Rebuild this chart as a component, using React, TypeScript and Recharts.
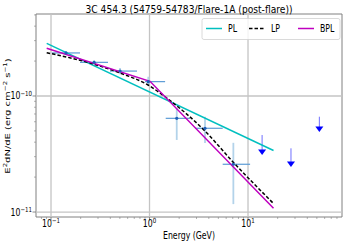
import React from 'react';
import {
  ComposedChart,
  Line,
  Scatter,
  XAxis,
  YAxis,
  ErrorBar,
  ReferenceLine,
  ReferenceArea,
} from 'recharts';

const TITLE = '3C 454.3 (54759-54783/Flare-1A (post-flare))';

// SED flux points (GeV, erg cm^-2 s^-1)
const binE = [0.142, 0.274, 0.502, 0.972, 1.89, 3.66, 7.1];
const binEmin = [0.102, 0.197, 0.397, 0.9, 1.46, 2.9, 5.53];
const binEmax = [0.197, 0.379, 0.746, 1.44, 2.58, 5.53, 10.5];
const binF = [2.35e-10, 1.95e-10, 1.64e-10, 1.33e-10, 6.42e-11, 5.27e-11, 2.58e-11];
const binFmin = [2.26e-10, 1.87e-10, 1.54e-10, 1.245e-10, 4.18e-11, 3.94e-11, 1.17e-11];
const binFmax = [2.44e-10, 2.03e-10, 1.74e-10, 1.466e-10, 7.88e-11, 6.63e-11, 3.95e-11];

// upper limits
const ulE = [13.9, 27.3, 53.0];
const ulTop = [4.61e-11, 3.54e-11, 6.63e-11];
const ulHead = [3.29e-11, 2.59e-11, 5.19e-11];

// model curves
const plE = [0.0904, 18.15];
const plF = [2.845e-10, 3.39e-11];
const lpE = [0.0904, 0.2797, 0.5018, 0.9656, 1.541, 3.66, 7.043, 18.15];
const lpF = [2.362e-10, 1.869e-10, 1.579e-10, 1.244e-10, 9.42e-11, 4.99e-11, 2.7e-11, 1.184e-11];
const bplE = [0.0904, 1.012, 18.15];
const bplF = [2.577e-10, 1.338e-10, 1.076e-11];

// axes
const xDomain = [0.0704, 90];
const yDomain = [9.06e-12, 5.09e-10];
const xMajor = [0.1, 1, 10];
const yMajor = [1e-11, 1e-10];
const xTicks = [0.08, 0.09, 0.1, 0.2, 0.3, 0.4, 0.5, 0.6, 0.7, 0.8, 0.9, 1, 2, 3, 4, 5, 6, 7, 8, 9, 10, 20, 30, 40, 50, 60, 70, 80];
const yTicks = [1e-11, 2e-11, 3e-11, 4e-11, 5e-11, 6e-11, 7e-11, 8e-11, 9e-11, 1e-10, 2e-10, 3e-10, 4e-10, 5e-10];

const FONT = 'DejaVu Sans';
const AXIS = '#808080';
const GRID = '#c4c4c4';

const series = [
  { name: 'PL', color: '#00bfbf', dash: undefined as string | undefined, e: plE, f: plF },
  { name: 'LP', color: '#000000', dash: '3.5 2', e: lpE, f: lpF },
  { name: 'BPL', color: '#bf00bf', dash: undefined as string | undefined, e: bplE, f: bplF },
];

const points = binE.map((e, i) => ({
  e,
  f: binF[i],
  xErr: [e - binEmin[i], binEmax[i] - e],
  yErr: [binF[i] - binFmin[i], binFmax[i] - binF[i]],
}));

const limits = ulE.map((e, i) => ({
  e,
  f: ulHead[i],
  yErr: [0, ulTop[i] - ulHead[i]],
}));

const isMajor = (v: number) => {
  const l = Math.log10(v);
  return Math.abs(l - Math.round(l)) < 1e-6;
};

const Pow10 = ({ x, y, exp, anchor }: any) => (
  <text
    transform={`translate(${x},${y}) scale(0.78,1)`}
    textAnchor={anchor}
    fontFamily={FONT}
    fontSize={10}
    fill="#000"
  >
    10
    <tspan dy={-4} fontSize={7}>
      {exp < 0 ? '\u2212' + -exp : String(exp)}
    </tspan>
  </text>
);

const XTick = ({ x, y, payload }: any) => {
  const v = payload.value;
  const major = isMajor(v);
  return (
    <g>
      <line x1={x} x2={x} y1={y} y2={y + (major ? 3.5 : 2)} stroke={AXIS} strokeWidth={major ? 0.9 : 0.6} />
      {major && <Pow10 x={x} y={y + 10} exp={Math.round(Math.log10(v))} anchor="middle" />}
    </g>
  );
};

const YTick = ({ x, y, payload }: any) => {
  const v = payload.value;
  const major = isMajor(v);
  return (
    <g>
      <line x1={x - (major ? 3.5 : 2)} x2={x} y1={y} y2={y} stroke={AXIS} strokeWidth={major ? 0.9 : 0.6} />
      {major && <Pow10 x={x - 4} y={y + 3.5} exp={Math.round(Math.log10(v))} anchor="end" />}
    </g>
  );
};

const Caret = ({ cx, cy }: any) => (
  <polygon points={`${cx - 4},${cy - 2.5} ${cx + 4},${cy - 2.5} ${cx},${cy + 3}`} fill="#0000ff" />
);

const Dot = ({ cx, cy }: any) => <circle cx={cx} cy={cy} r={1.6} fill="#1f5fb8" />;

const legendX = [206, 249, 298];

export default function App() {
  return (
    <div style={{ position: 'absolute', left: 0, top: 0, width: 346, height: 245, background: '#fff' }}>
      <ComposedChart width={346} height={245} margin={{ top: 14, right: 4, bottom: 0, left: 0 }}>
        <XAxis
          dataKey="e"
          type="number"
          scale="log"
          domain={xDomain}
          allowDataOverflow
          ticks={xTicks}
          interval={0}
          tick={<XTick />}
          tickLine={false}
          tickSize={0}
          tickMargin={0}
          axisLine={false}
          height={28}
        />
        <YAxis
          dataKey="f"
          type="number"
          scale="log"
          domain={yDomain}
          allowDataOverflow
          ticks={yTicks}
          interval={0}
          tick={<YTick />}
          tickLine={false}
          tickSize={0}
          tickMargin={0}
          axisLine={false}
          width={36}
        />
        {xMajor.map((v) => (
          <ReferenceLine key={'gx' + v} x={v} stroke={GRID} strokeWidth={1.3} />
        ))}
        {yMajor.map((v) => (
          <ReferenceLine key={'gy' + v} y={v} stroke={GRID} strokeWidth={1.3} />
        ))}
        <ReferenceArea
          x1={xDomain[0]}
          x2={xDomain[1]}
          y1={yDomain[0]}
          y2={yDomain[1]}
          fill="none"
          fillOpacity={0}
          stroke={AXIS}
          strokeWidth={1}
        />
        <Scatter data={points} shape={<Dot />} isAnimationActive={false}>
          <ErrorBar dataKey="yErr" direction="y" width={0} stroke="#b3d3ea" strokeWidth={1.8} isAnimationActive={false} />
          <ErrorBar dataKey="xErr" direction="x" width={0} stroke="#5b9bd5" strokeWidth={1.2} isAnimationActive={false} />
        </Scatter>
        <Scatter data={limits} shape={<Caret />} isAnimationActive={false}>
          <ErrorBar dataKey="yErr" direction="y" width={0} stroke="#7070ff" strokeWidth={1} isAnimationActive={false} />
        </Scatter>
        {series.map((s) => (
          <Line
            key={s.name}
            data={s.e.map((e, i) => ({ e, f: s.f[i] }))}
            dataKey="f"
            type={s.name === 'LP' ? 'monotone' : 'linear'}
            stroke={s.color}
            strokeWidth={1.5}
            strokeDasharray={s.dash}
            dot={false}
            activeDot={false}
            isAnimationActive={false}
          />
        ))}
      </ComposedChart>
      <svg
        width={346}
        height={245}
        style={{ position: 'absolute', left: 0, top: 0, pointerEvents: 'none' }}
      >
        <text
          x={189}
          y={12.5}
          textAnchor="middle"
          fontFamily={FONT}
          fontSize={10.5}
          textLength={207}
          lengthAdjust="spacingAndGlyphs"
        >
          {TITLE}
        </text>
        <rect x={202} y={18.5} width={138} height={21} rx={2} fill="#fff" fillOpacity={0.8} stroke="#d0d0d0" strokeWidth={0.8} />
        {series.map((s, i) => (
          <g key={s.name}>
            <line
              x1={legendX[i]}
              x2={legendX[i] + 16}
              y1={28.5}
              y2={28.5}
              stroke={s.color}
              strokeWidth={1.5}
              strokeDasharray={s.dash}
            />
            <text
              transform={`translate(${legendX[i] + 22},32) scale(0.78,1)`}
              fontFamily={FONT}
              fontSize={10}
            >
              {s.name}
            </text>
          </g>
        ))}
        <text
          transform="translate(189,239) scale(0.78,1)"
          textAnchor="middle"
          fontFamily={FONT}
          fontSize={10}
        >
          Energy (GeV)
        </text>
        <text
          transform="translate(10,116) rotate(-90) scale(1,0.78)"
          textAnchor="middle"
          fontFamily={FONT}
          fontSize={10}
        >
          E<tspan dy={-4} fontSize={7}>2</tspan>
          <tspan dy={4}>dN/dE (erg cm</tspan>
          <tspan dy={-4} fontSize={7}>{'\u22122'}</tspan>
          <tspan dy={4}> s</tspan>
          <tspan dy={-4} fontSize={7}>{'\u22121'}</tspan>
          <tspan dy={4}>)</tspan>
        </text>
      </svg>
    </div>
  );
}
